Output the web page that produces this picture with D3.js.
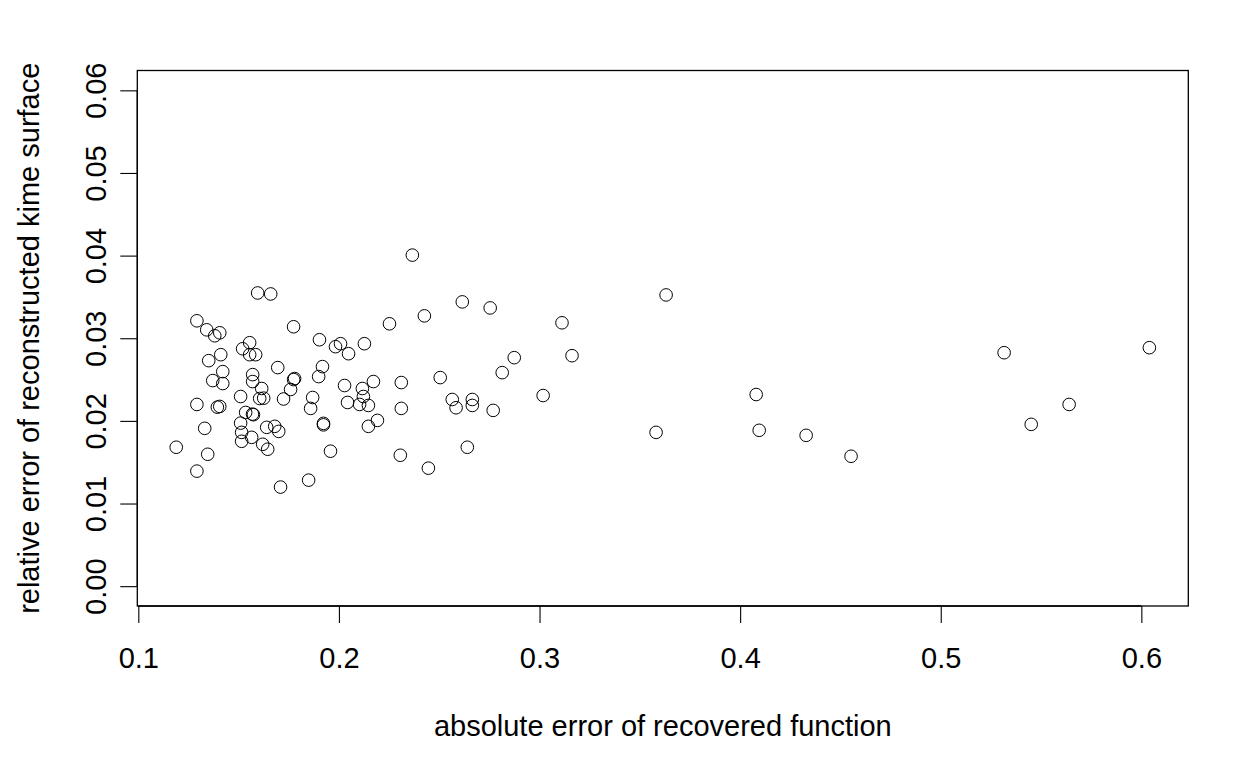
<!DOCTYPE html>
<html>
<head>
<meta charset="utf-8">
<script src="https://cdn.jsdelivr.net/npm/d3@7"></script>
<style>
  html, body { margin: 0; padding: 0; background: #fff; }
  svg { display: block; }
  text { font-family: "Liberation Sans", Arial, sans-serif; fill: #000; }
</style>
</head>
<body>
<svg id="chart" width="1259" height="778"></svg>
<script>
// absolute error of recovered function
const absError = [
  0.3631, 0.4080, 0.4095, 0.4329, 0.4553, 0.5316, 0.5451, 0.5640, 0.6040, 0.3581,
  0.3112, 0.3162, 0.3018, 0.2754, 0.2814, 0.2874, 0.2769, 0.2615, 0.2505, 0.2565,
  0.2584, 0.2665, 0.2665, 0.2640, 0.2446, 0.2366, 0.2426, 0.2252, 0.2311, 0.2311,
  0.2306, 0.1774, 0.1903, 0.1983, 0.2008, 0.2048, 0.2127, 0.1918, 0.1899, 0.1774,
  0.1779, 0.1759, 0.1724, 0.1869, 0.1859, 0.2028, 0.2117, 0.2172, 0.2122, 0.2043,
  0.2103, 0.2147, 0.1923, 0.1923, 0.2192, 0.2147, 0.1958, 0.1849, 0.1709, 0.1595,
  0.1660, 0.1292, 0.1341, 0.1381, 0.1406, 0.1555, 0.1520, 0.1555, 0.1585, 0.1411,
  0.1351, 0.1695, 0.1421, 0.1371, 0.1421, 0.1570, 0.1570, 0.1615, 0.1510, 0.1292,
  0.1394, 0.1406, 0.1605, 0.1625, 0.1535, 0.1569, 0.1574, 0.1510, 0.1331, 0.1515,
  0.1515, 0.1565, 0.1640, 0.1680, 0.1700, 0.1620, 0.1645, 0.1189, 0.1346, 0.1292
];
// relative error of reconstructed kime surface
const relError = [
  0.03524, 0.02319, 0.01886, 0.01825, 0.01572, 0.02825, 0.01958, 0.02199, 0.02886, 0.01861,
  0.03187, 0.02789, 0.02307, 0.03367, 0.02584, 0.02765, 0.02127, 0.03440, 0.02524, 0.02259,
  0.02159, 0.02259, 0.02187, 0.01681, 0.01428, 0.04006, 0.03271, 0.03175, 0.02464, 0.02151,
  0.01584, 0.03139, 0.02982, 0.02898, 0.02934, 0.02813, 0.02934, 0.02657, 0.02536, 0.02500,
  0.02512, 0.02380, 0.02265, 0.02283, 0.02151, 0.02428, 0.02392, 0.02476, 0.02295, 0.02223,
  0.02199, 0.02187, 0.01970, 0.01952, 0.02006, 0.01934, 0.01633, 0.01283, 0.01199, 0.03548,
  0.03536, 0.03211, 0.03102, 0.03030, 0.03066, 0.02946, 0.02873, 0.02801, 0.02801, 0.02801,
  0.02729, 0.02645, 0.02596, 0.02488, 0.02452, 0.02560, 0.02476, 0.02392, 0.02295, 0.02199,
  0.02166, 0.02175, 0.02271, 0.02275, 0.02102, 0.02082, 0.02075, 0.01973, 0.01910, 0.01861,
  0.01753, 0.01801, 0.01922, 0.01934, 0.01873, 0.01717, 0.01657, 0.01681, 0.01596, 0.01392
];
const xTicks = [0.1, 0.2, 0.3, 0.4, 0.5, 0.6];
const yTicks = [0.00, 0.01, 0.02, 0.03, 0.04, 0.05, 0.06];
const xTitle = "absolute error of recovered function";
const yTitle = "relative error of reconstructed kime surface";

const svg = d3.select("#chart");
const pLeft = 137.3, pRight = 1188.3, pTop = 70.5, pBottom = 606;

// R-style 4% padding
const xr = d3.extent(absError);
const xpad = (xr[1] - xr[0]) * 0.04;
const x = d3.scaleLinear().domain([xr[0] - xpad, xr[1] + xpad]).range([pLeft, pRight]);
const y = d3.scaleLinear().domain([0 - 0.0024, 0.06 + 0.0024]).range([pBottom, pTop]);

const fontSize = 29;
const tickLen = 17;

// box
svg.append("rect")
  .attr("x", pLeft).attr("y", pTop)
  .attr("width", pRight - pLeft).attr("height", pBottom - pTop)
  .attr("fill", "none").attr("stroke", "#000").attr("stroke-width", 1.3);

// x axis
const xAxis = d3.axisBottom(x).tickValues(xTicks).tickSize(tickLen).tickSizeOuter(0)
  .tickFormat(d3.format(".1f"));
const gx = svg.append("g").attr("transform", `translate(0,${pBottom})`).call(xAxis);
gx.select(".domain").attr("d", `M${x(xTicks[0])},0H${x(xTicks[xTicks.length-1])}`)
  .attr("stroke", "#000").attr("stroke-width", 1.3);
gx.selectAll(".tick line").attr("stroke", "#000").attr("stroke-width", 1.1);
gx.selectAll(".tick text")
  .attr("y", 0).attr("dy", null)
  .attr("transform", "translate(0,51.5)")
  .attr("dominant-baseline", "central")
  .style("font-family", '"Liberation Sans", Arial, sans-serif')
  .style("font-size", fontSize + "px").attr("fill", "#000");

// y axis
const yAxis = d3.axisLeft(y).tickValues(yTicks).tickSize(tickLen).tickSizeOuter(0)
  .tickFormat(d3.format(".2f"));
const gy = svg.append("g").attr("transform", `translate(${pLeft},0)`).call(yAxis);
gy.select(".domain").attr("d", `M0,${y(yTicks[0])}V${y(yTicks[yTicks.length-1])}`)
  .attr("stroke", "#000").attr("stroke-width", 1.3);
gy.selectAll(".tick line").attr("stroke", "#000").attr("stroke-width", 1.1);
gy.selectAll(".tick text")
  .attr("x", 0).attr("dy", null)
  .attr("transform", "translate(-41,0) rotate(-90)")
  .attr("text-anchor", "middle")
  .attr("dominant-baseline", "central")
  .style("font-family", '"Liberation Sans", Arial, sans-serif')
  .style("font-size", fontSize + "px").attr("fill", "#000");

// titles
svg.append("text")
  .attr("x", (pLeft + pRight) / 2).attr("y", 726)
  .attr("text-anchor", "middle").attr("dominant-baseline", "central")
  .style("font-size", fontSize + "px")
  .text(xTitle);
svg.append("text")
  .attr("transform", `translate(29,${(pTop + pBottom) / 2}) rotate(-90)`)
  .attr("text-anchor", "middle").attr("dominant-baseline", "central")
  .style("font-size", fontSize + "px")
  .text(yTitle);

// points
svg.append("g").selectAll("circle")
  .data(absError.map((v, i) => [v, relError[i]]))
  .join("circle")
  .attr("cx", d => x(d[0]))
  .attr("cy", d => y(d[1]))
  .attr("r", 6.3)
  .attr("fill", "none")
  .attr("stroke", "#000")
  .attr("stroke-width", 1);
</script>
</body>
</html>
